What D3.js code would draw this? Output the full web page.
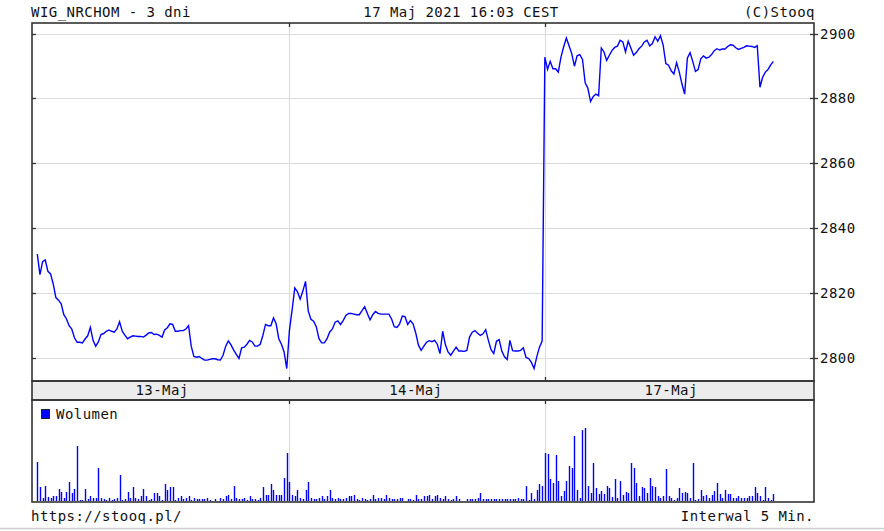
<!DOCTYPE html>
<html>
<head>
<meta charset="utf-8">
<script src="https://cdn.jsdelivr.net/npm/d3@7"></script>
<style>
  body { margin: 0; background: #fff; }
  text { font-family: 'DejaVu Sans Mono', monospace; font-size: 14px; letter-spacing: 0.45px; fill: #111; }
</style>
</head>
<body>
<div id="app"></div>
<script>
'use strict'
// 5 min. slots, 9:00 .. 16:50 = 95 slots a day
const slotsPerDay = 95
const days = ['13-Maj', '14-Maj', '17-Maj']
const yTicks = [2800, 2820, 2840, 2860, 2880, 2900]

const price13 = [2831.9, 2825.6, 2829.6, 2830.1, 2826.6, 2825.8, 2822.7, 2818.5, 2817.7, 2816.6,
  2813.2, 2811.9, 2809.8, 2808.8, 2806.1, 2804.7, 2804.7, 2804.5, 2805.7, 2806.7,
  2809.3, 2805.3, 2803.5, 2804.8, 2807.1, 2807.4, 2808.1, 2808.5, 2808.1, 2807.8,
  2808.8, 2811.0, 2808.1, 2806.9, 2805.8, 2806.3, 2806.7, 2806.6, 2806.5, 2806.5,
  2806.3, 2806.9, 2807.6, 2807.7, 2807.1, 2807.2, 2806.8, 2806.3, 2808.5, 2809.2,
  2810.4, 2810.2, 2808.1, 2808.1, 2808.3, 2808.3, 2808.8, 2809.8, 2803.5, 2800.3,
  2800.1, 2800.3, 2799.7, 2799.2, 2799.2, 2799.4, 2799.6, 2799.6, 2799.3, 2799.2,
  2800.7, 2803.5, 2805.1, 2803.9, 2802.3, 2801.0, 2799.7, 2803.0, 2803.2, 2804.1,
  2805.3, 2804.8, 2803.5, 2803.5, 2804.1, 2806.8, 2810.2, 2809.8, 2809.8, 2812.2,
  2810.4, 2805.8, 2804.1, 2801.7, 2796.6]
const price14 = [2808.3, 2814.6, 2821.5, 2820.3, 2818.0, 2820.5, 2823.5, 2814.4, 2811.8, 2811.2,
  2809.5, 2805.8, 2804.5, 2804.5, 2805.8, 2807.9, 2808.8, 2810.9, 2811.3, 2810.2,
  2811.4, 2813.0, 2813.6, 2813.6, 2813.4, 2813.2, 2813.2, 2814.5, 2815.7, 2813.6,
  2811.6, 2813.2, 2814.2, 2813.6, 2813.4, 2813.4, 2813.4, 2813.4, 2811.9, 2809.5,
  2809.3, 2810.4, 2812.8, 2812.6, 2810.2, 2811.4, 2810.4, 2807.5, 2803.8, 2802.2,
  2803.5, 2804.7, 2805.2, 2804.9, 2805.3, 2804.1, 2801.2, 2808.1, 2804.0, 2801.7,
  2800.7, 2802.0, 2803.2, 2802.0, 2802.0, 2801.9, 2802.2, 2806.3, 2807.8, 2808.3,
  2807.5, 2806.8, 2807.3, 2808.6, 2805.3, 2802.4, 2801.2, 2805.0, 2805.5, 2802.0,
  2800.2, 2799.4, 2805.3, 2802.1, 2802.0, 2802.0, 2802.2, 2803.0, 2800.0, 2799.7,
  2798.5, 2796.6, 2800.2, 2803.2, 2805.1]
const price17 = [2892.7, 2888.9, 2891.4, 2889.1, 2889.1, 2888.1, 2892.7, 2895.9, 2898.6, 2896.2,
  2893.8, 2889.9, 2893.1, 2893.5, 2892.0, 2884.8, 2883.1, 2879.0, 2880.6, 2881.3,
  2880.8, 2895.5, 2894.3, 2891.7, 2893.3, 2894.8, 2895.7, 2896.1, 2897.9, 2897.4,
  2894.3, 2897.6, 2895.5, 2893.3, 2894.1, 2895.3, 2896.1, 2897.4, 2897.9, 2896.2,
  2896.9, 2899.0, 2897.6, 2899.3, 2896.4, 2890.7, 2890.2, 2888.5, 2887.5, 2891.0,
  2888.1, 2884.4, 2881.3, 2892.4, 2894.1, 2891.4, 2888.3, 2888.9, 2892.2, 2893.1,
  2892.4, 2892.7, 2893.5, 2894.7, 2895.3, 2894.9, 2895.2, 2895.2, 2896.0, 2896.5,
  2896.4, 2895.6, 2895.1, 2895.4, 2895.7, 2896.2, 2896.1, 2896.0, 2895.7, 2896.2,
  2883.4, 2886.5, 2888.1, 2888.9, 2890.3, 2891.4]

// volume, relative units
const vol13 = [39, 14, 3, 15, 4, 3, 5, 5, 12, 9,
  3, 9, 19, 8, 12, 55, 1, 1, 12, 2,
  5, 3, 3, 33, 3, 2, 1, 3, 1, 2,
  3, 26, 1, 2, 9, 3, 14, 3, 2, 5,
  12, 5, 1, 2, 8, 8, 5, 1, 17, 11,
  14, 14, 1, 3, 5, 2, 3, 5, 1, 3,
  2, 2, 2, 2, 3, 1, 0, 2, 0, 3,
  2, 5, 6, 2, 15, 3, 2, 2, 3, 1,
  5, 2, 2, 1, 3, 14, 6, 6, 17, 11,
  6, 6, 6, 23, 48]
const vol14 = [19, 6, 5, 11, 3, 2, 11, 19, 3, 2,
  2, 3, 5, 2, 5, 11, 3, 2, 3, 2,
  2, 3, 5, 5, 6, 2, 1, 3, 2, 1,
  2, 6, 2, 3, 3, 2, 6, 3, 2, 2,
  2, 3, 3, 0, 2, 2, 1, 6, 2, 2,
  5, 5, 6, 2, 5, 6, 3, 2, 5, 2,
  1, 2, 5, 2, 0, 0, 2, 2, 2, 2,
  3, 8, 2, 2, 2, 2, 2, 2, 2, 2,
  2, 2, 2, 2, 2, 3, 2, 2, 15, 1,
  8, 2, 11, 17, 15]
const vol17 = [48, 47, 22, 18, 46, 20, 5, 10, 20, 35,
  33, 65, 11, 3, 71, 73, 15, 8, 38, 13,
  7, 10, 7, 15, 13, 4, 22, 3, 20, 6,
  9, 8, 38, 33, 18, 5, 14, 13, 8, 23,
  15, 14, 5, 3, 5, 32, 5, 3, 1, 3,
  13, 8, 9, 8, 3, 38, 1, 2, 11, 5,
  6, 3, 6, 10, 18, 7, 3, 11, 7, 7,
  3, 3, 5, 3, 3, 3, 5, 5, 14, 8,
  5, 1, 14, 3, 1, 7]

;(function (d3) {
  const w = 884
  const h = 531
  const left = 32
  const right = 814
  const top = 23
  const mainBottom = 381
  const bandBottom = 400
  const volBottom = 502
  const blue = '#0000ff'
  const frame = '#333'
  const grid = '#dcdcdc'

  const prices = [price13, price14, price17]
  const vols = [vol13, vol14, vol17]

  const points = []
  prices.forEach(function (arr, d) {
    arr.forEach(function (v, s) { points.push({ g: d * slotsPerDay + s, v: v, vol: vols[d][s] }) })
  })

  // first session is drawn a little tighter than the others
  const x = d3.scaleLinear().domain([0, slotsPerDay, 290.1]).range([37.3, 289.4, right])
  const y = d3.scaleLinear().domain([2800, 2900]).range([357.5, 33.5])
  const yVol = d3.scaleLinear().domain([0, 100]).range([501, 401])

  const svg = d3.select('#app')
    .append('svg')
    .attr('width', w)
    .attr('height', h)

  svg.append('rect').attr('width', w).attr('height', h).attr('fill', '#fff')

  // header
  svg.append('text').attr('x', 31).attr('y', 17).text('WIG_NRCHOM - 3 dni')
  svg.append('text').attr('x', 461).attr('y', 17).attr('text-anchor', 'middle').text('17 Maj 2021 16:03 CEST')
  svg.append('text').attr('x', 815).attr('y', 17).attr('text-anchor', 'end').text('(C)Stooq')

  const daySplits = [1, 2].map(function (d) { return Math.round(x(d * slotsPerDay)) + 0.5 })

  // grid main
  svg.append('g')
    .selectAll('line')
    .data(yTicks)
    .enter().append('line')
    .attr('x1', left).attr('x2', right)
    .attr('y1', function (d) { return Math.round(y(d)) + 0.5 })
    .attr('y2', function (d) { return Math.round(y(d)) + 0.5 })
    .attr('stroke', grid)
    .attr('stroke-width', 1.2)

  svg.append('g')
    .selectAll('line')
    .data(daySplits)
    .enter().append('line')
    .attr('x1', function (d) { return d }).attr('x2', function (d) { return d })
    .attr('y1', top).attr('y2', mainBottom)
    .attr('stroke', grid)
    .attr('stroke-width', 1.2)

  svg.append('g')
    .selectAll('line')
    .data(daySplits)
    .enter().append('line')
    .attr('x1', function (d) { return d }).attr('x2', function (d) { return d })
    .attr('y1', bandBottom).attr('y2', volBottom)
    .attr('stroke', grid)
    .attr('stroke-width', 1.2)

  // price line
  svg.append('clipPath').attr('id', 'clip')
    .append('rect').attr('x', left).attr('y', top).attr('width', right - left).attr('height', mainBottom - top)

  const line = d3.line()
    .x(function (d) { return x(d.g) })
    .y(function (d) { return y(d.v) })

  svg.append('path')
    .datum(points)
    .attr('clip-path', 'url(#clip)')
    .attr('d', line)
    .attr('fill', 'none')
    .attr('stroke', blue)
    .attr('stroke-width', 1.4)
    .attr('stroke-linejoin', 'miter')

  // volume bars
  svg.append('g')
    .selectAll('line')
    .data(points.filter(function (d) { return d.vol > 0 }))
    .enter().append('line')
    .attr('x1', function (d) { return Math.round(x(d.g)) + 0.5 })
    .attr('x2', function (d) { return Math.round(x(d.g)) + 0.5 })
    .attr('y1', yVol(0))
    .attr('y2', function (d) { return yVol(d.vol) })
    .attr('stroke', blue)
    .attr('stroke-width', 1.4)

  // band with day labels
  svg.append('rect')
    .attr('x', left).attr('y', mainBottom)
    .attr('width', right - left).attr('height', bandBottom - mainBottom)
    .attr('fill', '#ececec')

  svg.append('g')
    .selectAll('text')
    .data(days)
    .enter().append('text')
    .attr('x', function (d, i) { return x(i * slotsPerDay + 47) })
    .attr('y', 395)
    .attr('text-anchor', 'middle')
    .text(function (d) { return d })

  // frames
  const frames = [[top, mainBottom], [mainBottom, bandBottom], [bandBottom, volBottom]]
  svg.append('g')
    .selectAll('rect')
    .data(frames)
    .enter().append('rect')
    .attr('x', left).attr('y', function (d) { return d[0] })
    .attr('width', right - left).attr('height', function (d) { return d[1] - d[0] })
    .attr('fill', 'none')
    .attr('stroke', frame)
    .attr('stroke-width', 1.6)

  // ticks
  const ticks = svg.append('g').attr('stroke', frame).attr('stroke-width', 1.3)
  yTicks.forEach(function (t) {
    const ty = Math.round(y(t)) + 0.5
    ticks.append('line').attr('x1', left).attr('x2', left + 4).attr('y1', ty).attr('y2', ty)
    ticks.append('line').attr('x1', right - 4).attr('x2', right + 4).attr('y1', ty).attr('y2', ty)
  })
  daySplits.forEach(function (sx) {
    ticks.append('line').attr('x1', sx).attr('x2', sx).attr('y1', top).attr('y2', top + 4)
    ticks.append('line').attr('x1', sx).attr('x2', sx).attr('y1', mainBottom - 4).attr('y2', mainBottom)
    ticks.append('line').attr('x1', sx).attr('x2', sx).attr('y1', bandBottom).attr('y2', bandBottom + 4)
  })

  svg.append('g')
    .selectAll('text')
    .data(yTicks)
    .enter().append('text')
    .attr('x', 820)
    .attr('y', function (d) { return y(d) })
    .attr('dy', '0.36em')
    .text(function (d) { return d })

  // legend
  svg.append('rect')
    .attr('x', 41.5).attr('y', 409.5).attr('width', 8).attr('height', 9)
    .attr('fill', blue).attr('stroke', '#222').attr('stroke-width', 1)
  svg.append('text').attr('x', 56).attr('y', 419).text('Wolumen')

  // footer
  svg.append('text').attr('x', 31).attr('y', 521).text('https://stooq.pl/')
  svg.append('text').attr('x', 814).attr('y', 521).attr('text-anchor', 'end').text('Interwal 5 Min.')
  svg.append('line')
    .attr('x1', 0).attr('x2', w).attr('y1', 528.5).attr('y2', 528.5)
    .attr('stroke', '#cfcfcf').attr('stroke-width', 1.5)
}(d3))
</script>
</body>
</html>
